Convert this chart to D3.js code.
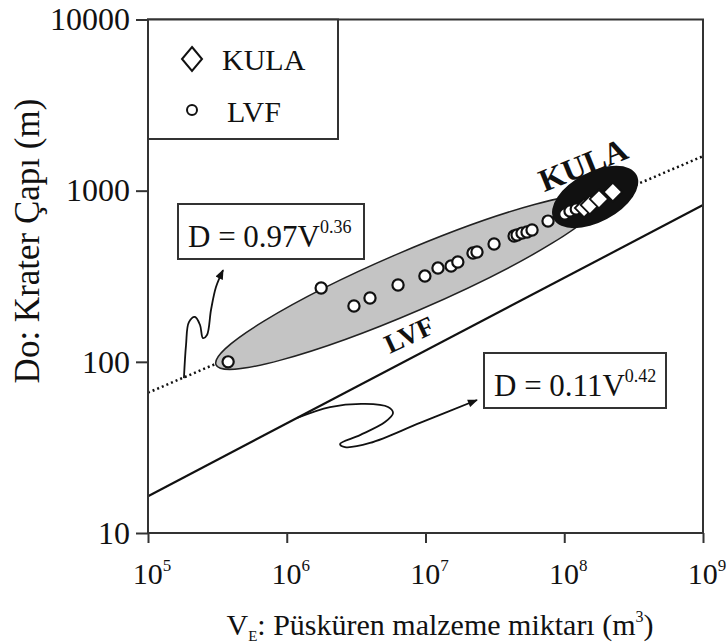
<!DOCTYPE html>
<html>
<head>
<meta charset="utf-8">
<title>Krater Çapı - Püsküren malzeme</title>
<script src="https://d3js.org/d3.v7.min.js"></script>
<style>
  body { margin: 0; background: #fff; }
  text { font-family: "Liberation Serif", "DejaVu Serif", serif; fill: #111; }
</style>
</head>
<body>
<div id="chart"></div>
<script>
// LVF cones: erupted volume (m3) and crater diameter (m)
const lvfV = [3.78e5, 1.77e6, 3.05e6, 3.98e6, 6.34e6, 9.9e6, 1.23e7, 1.53e7, 1.71e7, 2.2e7, 2.35e7,
              3.12e7, 4.35e7, 4.57e7, 4.96e7, 5.39e7, 5.86e7, 7.64e7, 1.01e8, 1.10e8, 1.22e8];
const lvfD = [100, 270, 212, 236, 281, 317, 353, 363, 383, 432, 438,
              488, 543, 551, 565, 573, 589, 664, 730, 760, 781];
// KULA cones
const kulaV = [1.39e8, 1.53e8, 1.78e8, 2.24e8];
const kulaD = [791, 824, 893, 982];

const xTicks = [1e5, 1e6, 1e7, 1e8, 1e9];
const xExp = ["5", "6", "7", "8", "9"];
const yTicks = [10, 100, 1000, 10000];

// fitted lines, end values
const dottedV = [1e5, 1e9], dottedD = [66, 1590];   // D = 0.97V^0.36
const solidV = [1e5, 1e9], solidD = [16.4, 824];    // D = 0.11V^0.42

// annotation arrows as [log10 V, log10 D]
const arrow1 = [[5.259, 1.905], [5.274, 2.098], [5.295, 2.232], [5.339, 2.262], [5.375, 2.215],
                [5.396, 2.139], [5.425, 2.157], [5.454, 2.303], [5.49, 2.437], [5.541, 2.536]];
const arrow2 = [[6.074, 1.672], [6.312, 1.736], [6.564, 1.754], [6.73, 1.736], [6.766, 1.701],
                [6.708, 1.648], [6.528, 1.572], [6.384, 1.52], [6.42, 1.502], [6.6, 1.526],
                [6.96, 1.643], [7.371, 1.777]];

// field outlines: centre (V, D)
const lvfField = {V: 7.48e6, D: 292};
const kulaField = {V: 1.67e8, D: 918};

const width = 728, height = 643;
const margin = {top: 19.5, right: 25, bottom: 110, left: 148};

const svg = d3.select("#chart").append("svg")
    .attr("width", width)
    .attr("height", height);

const x = d3.scaleLog().domain([1e5, 1e9]).range([margin.left, width - margin.right]);
const y = d3.scaleLog().domain([10, 10000]).range([height - margin.bottom, margin.top]);

const defs = svg.append("defs");
defs.append("clipPath").attr("id", "plot")
  .append("rect")
    .attr("x", x(1e5)).attr("y", y(10000))
    .attr("width", x(1e9) - x(1e5)).attr("height", y(10) - y(10000));
defs.append("marker")
    .attr("id", "head")
    .attr("viewBox", "0 0 10 8")
    .attr("refX", 9).attr("refY", 4)
    .attr("markerWidth", 11).attr("markerHeight", 8)
    .attr("markerUnits", "userSpaceOnUse")
    .attr("orient", "auto")
  .append("path")
    .attr("d", "M0,0L10,4L0,8z")
    .attr("fill", "#111");

const plot = svg.append("g").attr("clip-path", "url(#plot)");

const line = d3.line().x(d => x(d[0])).y(d => y(d[1]));

plot.append("path")
    .attr("d", line(dottedV.map((v, i) => [v, dottedD[i]])))
    .attr("stroke", "#111")
    .attr("stroke-width", 2.5)
    .attr("stroke-dasharray", "2,3")
    .attr("fill", "none");

plot.append("path")
    .attr("d", line(solidV.map((v, i) => [v, solidD[i]])))
    .attr("stroke", "#111")
    .attr("stroke-width", 2.2)
    .attr("fill", "none");

// LVF field (grey) and KULA field (black)
plot.append("ellipse")
    .attr("transform", `translate(${x(lvfField.V)},${y(lvfField.D)}) rotate(-23.3)`)
    .attr("rx", 209).attr("ry", 30)
    .attr("fill", "#c4c4c4")
    .attr("stroke", "#222")
    .attr("stroke-width", 1.5);

plot.append("ellipse")
    .attr("transform", `translate(${x(kulaField.V)},${y(kulaField.D)}) rotate(-28)`)
    .attr("rx", 47).attr("ry", 25)
    .attr("fill", "#111");

plot.selectAll(".lvf")
  .data(lvfV.map((v, i) => [v, lvfD[i]]))
  .join("circle")
    .attr("class", "lvf")
    .attr("cx", d => x(d[0]))
    .attr("cy", d => y(d[1]))
    .attr("r", 5.6)
    .attr("fill", "#fff")
    .attr("stroke", "#111")
    .attr("stroke-width", 2.2);

const diamond = d3.symbol().type(d3.symbolSquare).size(170);
plot.selectAll(".kula")
  .data(kulaV.map((v, i) => [v, kulaD[i]]))
  .join("path")
    .attr("class", "kula")
    .attr("d", diamond)
    .attr("transform", d => `translate(${x(d[0])},${y(d[1])}) rotate(45)`)
    .attr("fill", "#fff")
    .attr("stroke", "#111")
    .attr("stroke-width", 1.8);

// field labels
svg.append("text")
    .attr("transform", "translate(587,175) rotate(-22)")
    .attr("text-anchor", "middle")
    .style("font-size", "32px")
    .style("font-weight", "bold")
    .text("KULA");

svg.append("text")
    .attr("transform", "translate(413,343) rotate(-25)")
    .attr("text-anchor", "middle")
    .style("font-size", "27px")
    .style("font-weight", "bold")
    .text("LVF");

// frame
svg.append("rect")
    .attr("x", x(1e5)).attr("y", y(10000))
    .attr("width", x(1e9) - x(1e5)).attr("height", y(10) - y(10000))
    .attr("fill", "none")
    .attr("stroke", "#333")
    .attr("stroke-width", 2);

// axes
const yAxis = svg.append("g")
    .attr("transform", `translate(${x(1e5)},0)`)
    .call(d3.axisLeft(y).tickValues(yTicks).tickSize(12).tickPadding(6).tickFormat(d3.format("d")));
yAxis.select(".domain").remove();
yAxis.selectAll("line").attr("stroke", "#333").attr("stroke-width", 2);
yAxis.selectAll("text")
    .style("font-size", "32px")
    .style("font-family", "Liberation Serif, serif")
    .attr("fill", "#111");

const xAxis = svg.append("g")
    .attr("transform", `translate(0,${y(10)})`)
    .call(d3.axisBottom(x).tickValues(xTicks).tickSize(10).tickFormat(""));
xAxis.select(".domain").remove();
xAxis.selectAll("line").attr("stroke", "#333").attr("stroke-width", 2);

const xl = svg.selectAll(".xlab")
  .data(xTicks)
  .join("text")
    .attr("class", "xlab")
    .attr("x", d => x(d) + 4)
    .attr("y", y(10) + 51)
    .attr("text-anchor", "middle")
    .style("font-size", "30px");
xl.append("tspan").text("10");
xl.append("tspan")
    .attr("dy", -13)
    .style("font-size", "17px")
    .text((d, i) => xExp[i]);

// axis titles
const xt = svg.append("text")
    .attr("x", 440)
    .attr("y", 635)
    .attr("text-anchor", "middle")
    .style("font-size", "30px");
xt.append("tspan").text("V");
xt.append("tspan").attr("dy", 6).style("font-size", "15px").text("E");
xt.append("tspan").attr("dy", -6).text(": Püsküren malzeme miktarı (m");
xt.append("tspan").attr("dy", -13).style("font-size", "16px").text("3");
xt.append("tspan").attr("dy", 13).text(")");

svg.append("text")
    .attr("transform", "translate(39,241) rotate(-90)")
    .attr("text-anchor", "middle")
    .style("font-size", "35px")
    .text("Do: Krater Çapı (m)");

// legend
svg.append("rect")
    .attr("x", x(1e5)).attr("y", y(10000))
    .attr("width", 190).attr("height", 119.5)
    .attr("fill", "#fff")
    .attr("stroke", "#333")
    .attr("stroke-width", 2);
svg.append("path")
    .attr("d", "M0,-12L10,0L0,12L-10,0Z")
    .attr("transform", "translate(192,59)")
    .attr("fill", "#fff")
    .attr("stroke", "#111")
    .attr("stroke-width", 2);
svg.append("text").attr("x", 222).attr("y", 70).style("font-size", "30px").text("KULA");
svg.append("circle")
    .attr("cx", 192).attr("cy", 110).attr("r", 5)
    .attr("fill", "#fff").attr("stroke", "#111").attr("stroke-width", 2);
svg.append("text").attr("x", 227).attr("y", 122).style("font-size", "30px").text("LVF");

// equation boxes
function eqBox(bx, by, bw, bh, coef, expo) {
  svg.append("rect")
      .attr("x", bx).attr("y", by).attr("width", bw).attr("height", bh)
      .attr("fill", "#fff")
      .attr("stroke", "#333")
      .attr("stroke-width", 2);
  const t = svg.append("text")
      .attr("x", bx + 10).attr("y", by + 43)
      .style("font-size", "31px");
  t.append("tspan").text("D = " + coef + "V");
  t.append("tspan").attr("dy", -14).style("font-size", "18px").text(expo);
}
eqBox(178, 204, 186, 55, "0.97", "0.36");
eqBox(484, 353, 182, 55, "0.11", "0.42");

// arrows
const curvy = d3.line()
    .x(d => x(10 ** d[0]))
    .y(d => y(10 ** d[1]))
    .curve(d3.curveCatmullRom.alpha(0.5));
[arrow1, arrow2].forEach(a => {
  svg.append("path")
      .attr("d", curvy(a))
      .attr("fill", "none")
      .attr("stroke", "#111")
      .attr("stroke-width", 1.8)
      .attr("marker-end", "url(#head)");
});
</script>
</body>
</html>
